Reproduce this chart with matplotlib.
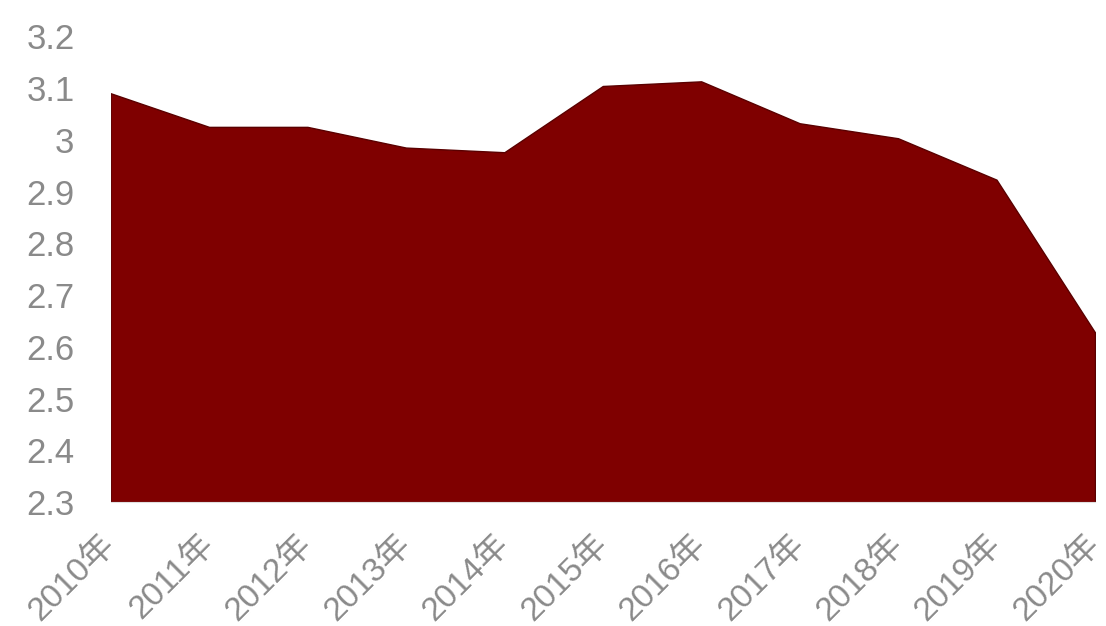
import matplotlib
matplotlib.use("Agg")
import matplotlib.pyplot as plt

plt.rcParams['font.family'] = ['Liberation Sans', 'Noto Sans CJK SC', 'DejaVu Sans']

# donnees
annees = ["2010年", "2011年", "2012年", "2013年", "2014年", "2015年",
          "2016年", "2017年", "2018年", "2019年", "2020年"]
valeurs = [3.09, 3.025, 3.025, 2.985, 2.976, 3.104, 3.113, 3.032, 3.003, 2.923, 2.628]
yticks = [2.3, 2.4, 2.5, 2.6, 2.7, 2.8, 2.9, 3.0, 3.1, 3.2]
ytick_labels = ["2.3", "2.4", "2.5", "2.6", "2.7", "2.8", "2.9", "3", "3.1", "3.2"]

fig = plt.figure(figsize=(11.06, 6.26), dpi=100)
ax = fig.add_axes([0.100, 0.198, 0.890, 0.744])

x = list(range(len(annees)))
ax.fill_between(x, 2.3, valeurs, color="#7f0000", edgecolor="#5a0000", linewidth=1.0)

ax.set_xlim(0, len(annees) - 1)
ax.set_ylim(2.3, 3.2)
ax.set_yticks(yticks)
ax.set_yticklabels(ytick_labels)
ax.set_xticks(x)
ax.set_xticklabels(annees, rotation=45, ha="right", va="center", rotation_mode="anchor")

for s in ["top", "right", "left"]:
    ax.spines[s].set_visible(False)
ax.spines["bottom"].set_color("#e0e0e0")
ax.tick_params(axis="y", length=0, labelsize=25, labelcolor="#8a8a8a", pad=26)
ax.tick_params(axis="x", length=0, labelsize=24, labelcolor="#8a8a8a", pad=27)

fig.savefig("out.png", dpi=100)
